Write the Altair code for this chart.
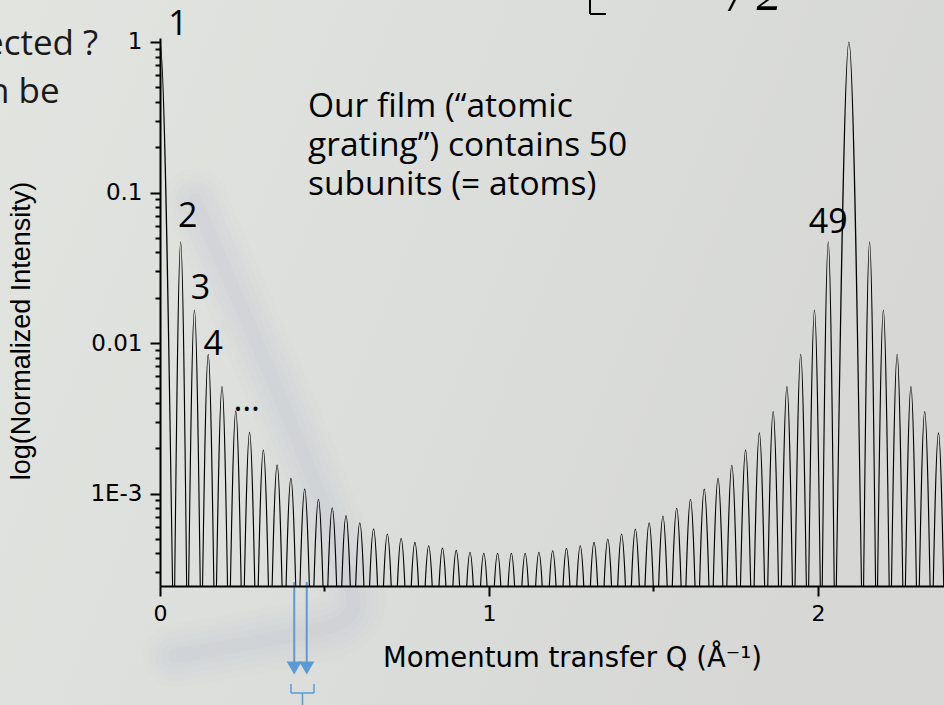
import altair as alt
import pandas as pd

# ---------------------------------------------------------------- data
n_subunits = 50                 # atoms in the film ("atomic grating")
bragg_q = 2.094                 # position of the first Bragg peak, 1/Å
main_peak_height = 1.0
zero_level = 7e-5               # intensity at the fringe zeros (drawn below the axis floor)

# subsidiary maxima between Q = 0 and the Bragg peak (fringes 1 ... 48)
fringe_heights = [
    0.0471, 0.01656, 0.00841, 0.00513, 0.00353, 0.00255, 0.00195, 0.00155, 0.00126, 0.00107,
    0.000916, 0.000805, 0.000713, 0.000640, 0.000584, 0.000538, 0.000504, 0.000474, 0.000450, 0.000434,
    0.000419, 0.000407, 0.000401, 0.000401, 0.000401, 0.000401, 0.000407, 0.000417, 0.000432, 0.000450,
    0.000474, 0.000499, 0.000538, 0.000581, 0.000640, 0.000709, 0.000798, 0.000916, 0.00107, 0.00126,
    0.00154, 0.00195, 0.00253, 0.00351, 0.00513, 0.00842, 0.01656, 0.0471,
]
# subsidiary maxima beyond the Bragg peak
beyond_heights = [0.0471, 0.01656, 0.00842, 0.00513, 0.00351, 0.00253]

x_tick_values = [0, 0.5, 1, 1.5, 2]
x_tick_labels = ["0", "", "1", "", "2"]
y_major_values = [1, 0.1, 0.01, 0.001]
y_major_labels = ["1", "0.1", "0.01", "1E-3"]
y_minor_values = [0.9, 0.8, 0.7, 0.6, 0.5, 0.4, 0.3, 0.2,
                  0.09, 0.08, 0.07, 0.06, 0.05, 0.04, 0.03, 0.02,
                  0.009, 0.008, 0.007, 0.006, 0.005, 0.004, 0.003, 0.002,
                  0.0009, 0.0008, 0.0007, 0.0006, 0.0005, 0.0004, 0.0003]

arrow_q = [0.408, 0.446]
annotation_lines = ["Our film (\u201catomic", "grating\u201d) contains 50", "subunits (= atoms)"]

# ---------------------------------------------------------------- lobes
spacing = bragg_q / n_subunits
rows = []


def add_lobe(lobe_id, q_left, q_peak, q_right, height):
    rows.append({"lobe": lobe_id, "q": q_left, "I": zero_level})
    rows.append({"lobe": lobe_id, "q": q_peak, "I": height})
    rows.append({"lobe": lobe_id, "q": q_right, "I": zero_level})


add_lobe(0, -spacing, 0.0, spacing, main_peak_height)
for k, h in enumerate(fringe_heights, start=1):
    add_lobe(k, k * spacing, (k + 0.5) * spacing, (k + 1) * spacing, h)
add_lobe(n_subunits, bragg_q - spacing, bragg_q, bragg_q + spacing, main_peak_height)
for i, h in enumerate(beyond_heights):
    k = n_subunits + 1 + i
    add_lobe(k, k * spacing, (k + 0.5) * spacing, (k + 1) * spacing, h)
curve = pd.DataFrame(rows)

peaks = curve[curve["I"] > zero_level].reset_index(drop=True)

# ---------------------------------------------------------------- scales / axes
W, H = 784, 548
x_scale = alt.Scale(domain=[0, 2.383], nice=False, zero=False)
y_scale = alt.Scale(type="log", domain=[2.43e-4, 1.063], nice=False)


def label_expr(values, labels):
    expr = "''"
    for v, t in reversed(list(zip(values, labels))):
        expr = f"datum.value == {v} ? '{t}' : ({expr})"
    return expr


x_axis = alt.Axis(
    values=x_tick_values,
    labelExpr=label_expr(x_tick_values, x_tick_labels),
    tickSize=alt.condition("datum.value % 1 == 0", alt.value(10), alt.value(5)),
    tickWidth=2, tickColor="black", domainColor="black", domainWidth=2,
    labelFont="DejaVu Sans", labelFontSize=22, labelColor="black", labelPadding=7,
    labelOverlap=False, labelFlush=False, grid=False, title=None, zindex=1,
)
y_axis = alt.Axis(
    values=y_major_values + y_minor_values,
    labelExpr=label_expr(y_major_values, y_major_labels),
    tickSize=alt.condition(f"indexof({y_major_values}, datum.value) >= 0", alt.value(10), alt.value(5)),
    tickWidth=2, tickColor="black", domainColor="black", domainWidth=2,
    labelFont="DejaVu Sans", labelFontSize=23, labelColor="black", labelPadding=8,
    labelOverlap=False, labelFlush=False, labelBound=False, grid=False, title=None, zindex=1,
)

lines = alt.Chart(curve).mark_line(
    interpolate="monotone", color="black", strokeWidth=1.1, clip=True
).encode(
    x=alt.X("q:Q", scale=x_scale, axis=x_axis),
    y=alt.Y("I:Q", scale=y_scale, axis=y_axis),
    detail="lobe:N",
    order="q:Q",
)

# ---------------------------------------------------------------- backdrop
blank = pd.DataFrame({"a": [0]})
backdrop = alt.Chart(blank).mark_rect(
    color=alt.Gradient(
        gradient="linear", x1=0, y1=0, x2=1, y2=0.3,
        stops=[alt.GradientStop(color="#e1e4df", offset=0),
               alt.GradientStop(color="#dcdfdb", offset=0.45),
               alt.GradientStop(color="#d7d8d6", offset=1)],
    )
).encode(x=alt.value(-160), x2=alt.value(784), y=alt.value(-38), y2=alt.value(667))

# blurred figure of the slide photo behind the chart (pixel path, plot frame)
streak_path = pd.DataFrame({
    "px": [35, 78, 122, 162, 192, 196, 178, 140, 85, 15],
    "py": [162, 262, 362, 462, 545, 575, 588, 596, 606, 618],
    "step": list(range(10)),
})


def soft_path(df, color, widths_opacities):
    out = []
    for w, o in widths_opacities:
        out.append(alt.Chart(df).mark_line(
            color=color, strokeWidth=w, opacity=o, interpolate="basis", strokeCap="round"
        ).encode(x=alt.X("px:Q", scale=None), y=alt.Y("py:Q", scale=None), order="step:Q"))
    return out


streaks = soft_path(streak_path, "#a39dcc",
                    [(64, 0.018), (50, 0.022), (38, 0.028), (26, 0.034), (14, 0.04)])

# ---------------------------------------------------------------- peak labels
label_font = dict(font="Open Sans", fontSize=34, color="black")


def peak_label(text, lobe, dx, dy, align="center", baseline="middle"):
    return alt.Chart(peaks[peaks["lobe"] == lobe]).mark_text(
        text=text, dx=dx, dy=dy, align=align, baseline=baseline, **label_font
    ).encode(x=alt.X("q:Q", scale=x_scale), y=alt.Y("I:Q", scale=y_scale))


labels = [
    peak_label("1", 0, 18, -17),
    peak_label("2", 1, 7, -25),
    peak_label("3", 2, 6, -21),
    peak_label("4", 3, 5, -9),
    peak_label("\u2026", 5, 11, 0, baseline="alphabetic"),
    peak_label("49", 48, 0, -19),
]

# ---------------------------------------------------------------- slide texts


def text_at(text, x, y, **kw):
    return alt.Chart(blank).mark_text(text=text, **kw).encode(x=alt.value(x), y=alt.value(y))


annotation = text_at(annotation_lines, 148, 79, font="Open Sans", fontSize=33.5, lineHeight=39,
                     align="left", baseline="alphabetic", color="black")
slide_line1 = text_at("ected ?", -176, 17, font="Open Sans", fontSize=35, align="left",
                      baseline="alphabetic", color="#1a1a1a")
slide_line2 = text_at("n be", -172, 65, font="Open Sans", fontSize=35, align="left",
                      baseline="alphabetic", color="#1a1a1a")
formula_tail = text_at("/  2", 570, -28, font="Liberation Serif", fontSize=50, fontStyle="italic",
                       align="left", baseline="alphabetic", color="black")

y_title = text_at("log(Normalized Intensity)", -138, 293, font="Liberation Sans", fontSize=27,
                  angle=270, align="center", baseline="middle", color="black")
x_title = text_at("Momentum transfer Q (\u00c5\u207b\u00b9)", 223, 629, font="DejaVu Sans",
                  fontSize=27.5, align="left", baseline="alphabetic", color="black")


def seg(x1, y1, x2, y2, color, width):
    return alt.Chart(blank).mark_rule(color=color, strokeWidth=width).encode(
        x=alt.value(x1), y=alt.value(y1), x2=alt.value(x2), y2=alt.value(y2))


# bottom corner of a large bracket from the formula above the chart
bracket = seg(430, -40, 430, -24, "black", 2) + seg(430, -24, 446, -24, "black", 2)

# ---------------------------------------------------------------- arrows and brace
blue = "#5b9bd5"
arrows_df = pd.DataFrame({"q": arrow_q})
arrow_shafts = alt.Chart(arrows_df).mark_rule(color=blue, strokeWidth=2).encode(
    x=alt.X("q:Q", scale=x_scale), y=alt.value(544), y2=alt.value(626))
arrow_heads = alt.Chart(arrows_df).mark_point(
    shape="triangle-down", filled=True, color=blue, size=230, opacity=1).encode(
    x=alt.X("q:Q", scale=x_scale), y=alt.value(630))
brace = (seg(131, 646, 131, 655, blue, 1.5) + seg(131, 655, 154, 655, blue, 1.5)
         + seg(154, 646, 154, 655, blue, 1.5) + seg(142.5, 655, 142.5, 670, blue, 1.5))

chart = alt.layer(
    backdrop, *streaks,
    lines, *labels, annotation, slide_line1, slide_line2, formula_tail, bracket,
    y_title, x_title, arrow_shafts, arrow_heads, brace,
).properties(
    width=W, height=H,
    padding={"left": 160, "top": 38, "right": 0, "bottom": 119},
    autosize=alt.AutoSizeParams(type="none"),
    background="#dcdfdb",
).configure_view(stroke=None)

chart.save("out.html", embed_options={"renderer": "svg", "actions": False})
